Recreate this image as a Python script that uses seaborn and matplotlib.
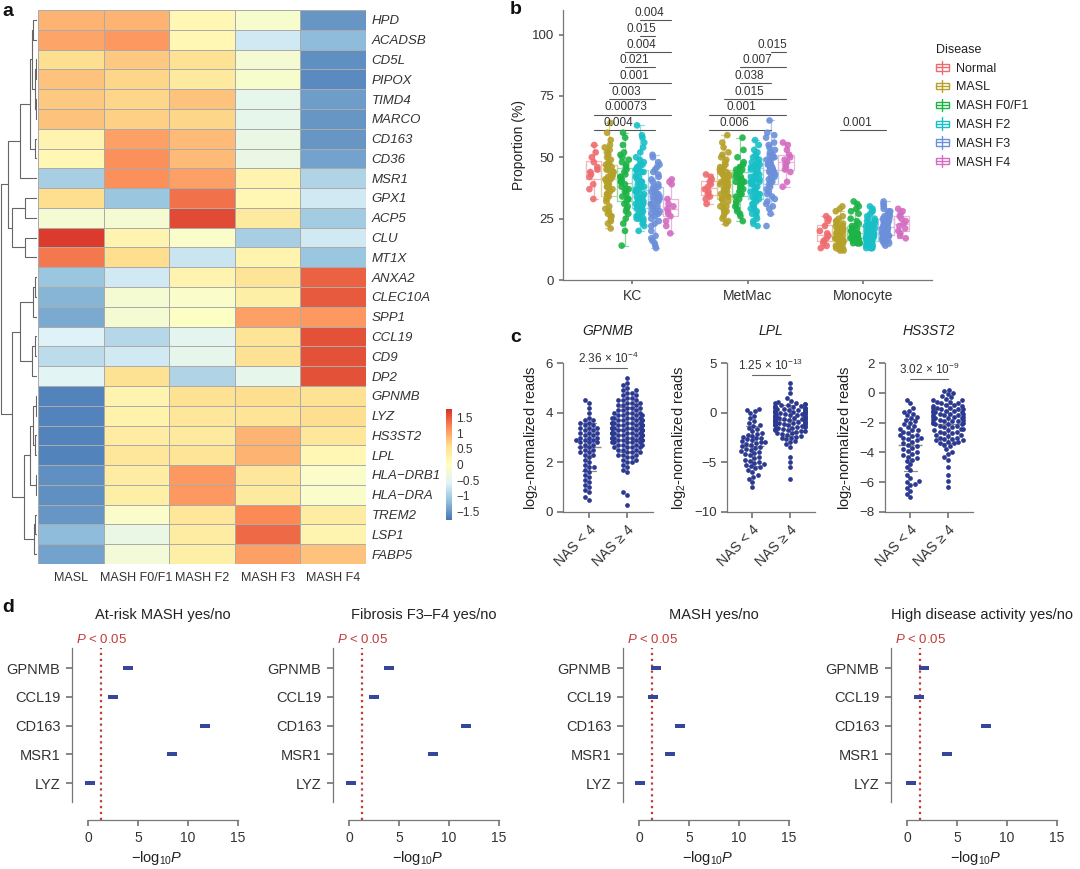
import matplotlib
matplotlib.use("Agg")
import matplotlib.pyplot as plt
import matplotlib.transforms as mtransforms
import numpy as np
import pandas as pd
import seaborn as sns
from matplotlib.colors import LinearSegmentedColormap, to_rgb
from matplotlib.legend_handler import HandlerBase
from matplotlib.lines import Line2D
from matplotlib.patches import Patch, Rectangle

# ---------------- panel a: heatmap ----------------
heat_genes = ["HPD", "ACADSB", "CD5L", "PIPOX", "TIMD4", "MARCO", "CD163", "CD36", "MSR1",
              "GPX1", "ACP5", "CLU", "MT1X", "ANXA2", "CLEC10A", "SPP1", "CCL19", "CD9", "DP2",
              "GPNMB", "LYZ", "HS3ST2", "LPL", "HLA\u2212DRB1", "HLA\u2212DRA", "TREM2", "LSP1", "FABP5"]
heat_stages = ["MASL", "MASH F0/F1", "MASH F2", "MASH F3", "MASH F4"]
heat_values = [
    [0.9, 0.9, 0.15, -0.15, -1.5],
    [1.0, 1.1, 0.15, -0.7, -1.2],
    [0.6, 0.75, 0.55, -0.2, -1.55],
    [0.8, 0.65, 0.4, -0.15, -1.6],
    [0.75, 0.65, 0.8, -0.45, -1.45],
    [0.8, 0.7, 0.65, -0.45, -1.5],
    [0.2, 1.05, 0.85, -0.4, -1.5],
    [0.15, 1.15, 0.85, -0.4, -1.4],
    [-1.0, 1.15, 1.05, 0.2, -0.95],
    [0.6, -1.1, 1.35, 0.15, -0.7],
    [-0.2, -0.2, 1.6, 0.4, -1.05],
    [1.7, 0.2, -0.1, -1.0, -0.7],
    [1.3, 0.6, -0.75, 0.2, -1.1],
    [-1.1, -0.7, 0.2, 0.5, 1.45],
    [-1.25, -0.2, -0.1, 0.3, 1.5],
    [-1.35, -0.2, -0.05, 1.05, 1.1],
    [-0.6, -0.9, -0.5, 0.5, 1.55],
    [-0.85, -0.7, -0.45, 0.55, 1.55],
    [-0.55, 0.55, -0.95, -0.45, 1.55],
    [-1.65, 0.2, 0.55, 0.6, 0.55],
    [-1.65, 0.25, 0.45, 0.5, 0.6],
    [-1.65, 0.35, 0.4, 0.9, 0.45],
    [-1.65, 0.45, 0.5, 0.9, 0.15],
    [-1.55, 0.35, 1.1, 0.45, -0.1],
    [-1.55, 0.3, 1.1, 0.4, -0.1],
    [-1.5, -0.1, 0.45, 1.2, 0.35],
    [-1.2, -0.4, 0.35, 1.4, 0.2],
    [-1.4, -0.25, 0.3, 1.05, 0.8],
]
# row dendrogram: (left child, right child, height); ints refer to earlier links
tree_links = [
    ("HPD", "ACADSB", 13), ("CD5L", "PIPOX", 3), ("TIMD4", "MARCO", 4), (1, 2, 7), (0, 3, 16),
    ("CD163", "CD36", 5), (4, 5, 22), (6, "MSR1", 50), ("GPX1", "ACP5", 35), ("CLU", "MT1X", 35),
    (8, 9, 75), (7, 10, 84), ("ANXA2", "CLEC10A", 5), (12, "SPP1", 12), ("CCL19", "CD9", 7),
    (14, "DP2", 14), (13, 15, 50), ("GPNMB", "LYZ", 3), ("HS3ST2", "LPL", 5), (17, 18, 12),
    ("HLA\u2212DRB1", "HLA\u2212DRA", 2), (19, 20, 22), ("TREM2", "LSP1", 6), (22, "FABP5", 10),
    (21, 23, 38), (16, 24, 74), (11, 25, 107),
]

# ---------------- panel b: proportions ----------------
cell_types = ["KC", "MetMac", "Monocyte"]
disease_levels = ["Normal", "MASL", "MASH F0/F1", "MASH F2", "MASH F3", "MASH F4"]
kc_props = {
    "Normal": [55, 52, 50, 48, 46, 45, 44, 43, 42, 39, 37, 33],
    "MASL": [64, 60, 57, 55, 54, 53, 52, 51, 50, 49, 48, 47, 47, 46, 46, 45, 45, 44, 44, 43,
             43, 42, 42, 41, 41, 41, 40, 40, 39, 39, 38, 38, 37, 37, 36, 35, 35, 34, 33, 32,
             30, 29, 28, 27, 26, 26, 25, 24, 23, 21],
    "MASH F0/F1": [60, 58, 55, 52, 51, 50, 49, 48, 47, 46, 45, 44, 43, 42, 42, 41, 41, 40, 40,
                   39, 38, 37, 37, 36, 35, 34, 33, 33, 32, 31, 30, 29, 28, 27, 25, 23, 20, 14],
    "MASH F2": [63, 59, 58, 56, 54, 52, 50, 49, 48, 47, 47, 46, 46, 45, 45, 44, 44, 43, 42, 42,
                41, 40, 40, 39, 39, 38, 38, 37, 37, 36, 36, 35, 35, 34, 34, 33, 33, 32, 32, 31,
                31, 30, 30, 29, 29, 28, 28, 27, 27, 26, 26, 25, 25, 25, 24, 23, 22, 20],
    "MASH F3": [51, 50, 48, 47, 46, 45, 44, 43, 42, 41, 40, 39, 38, 38, 37, 37, 36, 36, 35, 35,
                34, 34, 34, 33, 33, 33, 32, 32, 31, 31, 30, 30, 29, 29, 28, 28, 27, 27, 26, 25,
                24, 23, 22, 20, 18, 17, 16, 15, 14, 13],
    "MASH F4": [41, 40, 39, 33, 31, 30, 29, 28, 27, 26, 24, 22, 19],
}
metmac_props = {
    "Normal": [43, 42, 41, 40, 39, 38, 37, 36, 35, 34, 33, 31],
    "MASL": [59, 56, 54, 52, 51, 50, 49, 48, 47, 46, 46, 45, 45, 44, 44, 43, 43, 42, 42, 41,
             41, 40, 40, 40, 39, 39, 38, 38, 37, 37, 36, 36, 35, 35, 34, 34, 33, 33, 32, 31,
             30, 30, 29, 28, 28, 27, 26, 25, 24, 23],
    "MASH F0/F1": [58, 53, 50, 48, 47, 46, 46, 45, 45, 44, 44, 43, 42, 42, 41, 41, 40, 40, 40,
                   39, 39, 38, 38, 37, 37, 36, 35, 35, 34, 33, 32, 31, 30, 29, 28, 27, 26, 24],
    "MASH F2": [57, 55, 53, 52, 51, 50, 50, 49, 48, 48, 47, 47, 46, 46, 46, 45, 45, 44, 44, 43,
                43, 42, 42, 42, 41, 41, 41, 40, 40, 40, 39, 39, 38, 38, 37, 37, 36, 36, 35, 35,
                34, 34, 33, 33, 32, 31, 31, 30, 29, 29, 28, 27, 27, 26, 25, 24, 23, 22],
    "MASH F3": [65, 60, 59, 58, 56, 55, 54, 53, 52, 51, 51, 50, 50, 49, 49, 48, 48, 47, 47, 47,
                46, 46, 46, 45, 45, 45, 44, 44, 44, 43, 43, 42, 42, 41, 41, 40, 40, 39, 38, 37,
                36, 35, 34, 33, 32, 31, 30, 29, 27, 22],
    "MASH F4": [56, 55, 53, 51, 50, 49, 48, 47, 46, 45, 44, 40, 38],
}
mono_props = {
    "Normal": [26, 25, 24, 22, 20, 19, 18, 17, 16, 15, 14, 13],
    "MASL": [30, 29, 28, 26, 25, 24, 24, 23, 23, 22, 22, 22, 21, 21, 21, 21, 20, 20, 20, 20,
             20, 19, 19, 19, 19, 19, 18, 18, 18, 18, 18, 17, 17, 17, 17, 16, 16, 16, 16, 15,
             15, 15, 14, 14, 14, 13, 13, 13, 12, 12],
    "MASH F0/F1": [32, 31, 30, 29, 28, 27, 25, 24, 23, 22, 22, 21, 21, 21, 20, 20, 20, 19, 19,
                   19, 19, 18, 18, 18, 18, 17, 17, 17, 17, 16, 16, 16, 16, 15, 15, 15, 15, 15],
    "MASH F2": [30, 29, 28, 28, 27, 26, 25, 25, 24, 24, 23, 23, 23, 22, 22, 22, 22, 21, 21, 21,
                21, 20, 20, 20, 20, 20, 19, 19, 19, 19, 19, 18, 18, 18, 18, 18, 17, 17, 17, 17,
                17, 16, 16, 16, 16, 16, 15, 15, 15, 15, 14, 14, 14, 14, 13, 13, 13, 13],
    "MASH F3": [32, 31, 30, 29, 28, 28, 27, 27, 26, 26, 25, 25, 25, 24, 24, 24, 23, 23, 23, 23,
                22, 22, 22, 22, 22, 21, 21, 21, 21, 20, 20, 20, 20, 19, 19, 19, 19, 18, 18, 18,
                18, 17, 17, 17, 16, 16, 16, 15, 15, 14],
    "MASH F4": [29, 28, 27, 26, 25, 24, 23, 22, 21, 20, 19, 18, 17],
}
b_comparisons = [
    ("KC", "Normal", "MASH F3", "0.004"), ("KC", "Normal", "MASH F4", "0.00073"),
    ("KC", "MASL", "MASH F3", "0.003"), ("KC", "MASL", "MASH F4", "0.001"),
    ("KC", "MASH F0/F1", "MASH F3", "0.021"), ("KC", "MASH F0/F1", "MASH F4", "0.004"),
    ("KC", "MASH F2", "MASH F3", "0.015"), ("KC", "MASH F2", "MASH F4", "0.004"),
    ("MetMac", "Normal", "MASH F3", "0.006"), ("MetMac", "Normal", "MASH F4", "0.001"),
    ("MetMac", "MASL", "MASH F4", "0.015"), ("MetMac", "MASH F0/F1", "MASH F3", "0.038"),
    ("MetMac", "MASH F0/F1", "MASH F4", "0.007"), ("MetMac", "MASH F3", "MASH F4", "0.015"),
    ("Monocyte", "MASL", "MASH F3", "0.001"),
]

# ---------------- panel c: NAS groups ----------------
nas_groups = ["NAS < 4", "NAS \u2265 4"]
gpnmb_low = [4.5, 4.4, 4.2, 4.0, 3.8, 3.7, 3.7, 3.6, 3.6, 3.5, 3.5, 3.4, 3.4, 3.4, 3.3, 3.3, 3.2,
             3.2, 3.2, 3.1, 3.1, 3.0, 3.0, 3.0, 2.9, 2.9, 2.9, 2.8, 2.8, 2.8, 2.7, 2.7, 2.6, 2.6,
             2.5, 2.5, 2.4, 2.4, 2.3, 2.3, 2.2, 2.1, 2.0, 1.9, 1.8, 1.8, 1.7, 1.6, 1.5, 1.4, 1.3,
             1.2, 1.1, 1.0, 0.9, 0.8, 0.6, 0.5]
gpnmb_high = [5.4, 5.2, 5.1, 5.0, 4.9, 4.9, 4.8, 4.8, 4.7, 4.7, 4.6, 4.6, 4.5, 4.5, 4.5, 4.4, 4.4,
              4.4, 4.3, 4.3, 4.3, 4.2, 4.2, 4.2, 4.1, 4.1, 4.1, 4.0, 4.0, 4.0, 4.0, 3.9, 3.9, 3.9,
              3.9, 3.8, 3.8, 3.8, 3.8, 3.8, 3.7, 3.7, 3.7, 3.7, 3.7, 3.6, 3.6, 3.6, 3.6, 3.6, 3.6,
              3.5, 3.5, 3.5, 3.5, 3.5, 3.5, 3.4, 3.4, 3.4, 3.4, 3.4, 3.4, 3.4, 3.3, 3.3, 3.3, 3.3,
              3.3, 3.3, 3.3, 3.2, 3.2, 3.2, 3.2, 3.2, 3.2, 3.2, 3.1, 3.1, 3.1, 3.1, 3.1, 3.1, 3.0,
              3.0, 3.0, 3.0, 3.0, 3.0, 2.9, 2.9, 2.9, 2.9, 2.9, 2.8, 2.8, 2.8, 2.8, 2.8, 2.7, 2.7,
              2.7, 2.7, 2.6, 2.6, 2.6, 2.6, 2.5, 2.5, 2.5, 2.4, 2.4, 2.4, 2.3, 2.3, 2.3, 2.2, 2.2,
              2.1, 2.1, 2.0, 2.0, 1.9, 1.8, 1.7, 1.6, 0.8, 0.7, 0.3]
lpl_low = [0.4, 0.3, 0.2, 0.0, -0.3, -0.5, -0.8, -1.0, -1.2, -1.3, -1.5, -1.6, -1.8, -2.0, -2.1,
           -2.2, -2.3, -2.4, -2.5, -2.6, -2.7, -2.8, -2.9, -3.0, -3.0, -3.1, -3.2, -3.3, -3.4,
           -3.5, -3.6, -3.7, -3.8, -3.9, -4.0, -4.1, -4.2, -4.3, -4.5, -4.6, -4.8, -4.9, -5.0,
           -5.1, -5.2, -5.3, -5.4, -5.5, -5.6, -5.8, -6.0, -6.3, -6.5, -6.7, -7.0, -7.5]
lpl_high = [3.0, 2.5, 2.0, 1.5, 1.2, 1.1, 1.0, 1.0, 0.9, 0.9, 0.8, 0.8, 0.7, 0.7, 0.6, 0.6, 0.5,
            0.5, 0.5, 0.4, 0.4, 0.3, 0.3, 0.3, 0.2, 0.2, 0.2, 0.1, 0.1, 0.1, 0.0, 0.0, 0.0, -0.1,
            -0.1, -0.1, -0.2, -0.2, -0.2, -0.3, -0.3, -0.3, -0.4, -0.4, -0.4, -0.5, -0.5, -0.5,
            -0.6, -0.6, -0.6, -0.7, -0.7, -0.7, -0.8, -0.8, -0.8, -0.9, -0.9, -0.9, -1.0, -1.0,
            -1.0, -1.1, -1.1, -1.1, -1.2, -1.2, -1.2, -1.3, -1.3, -1.4, -1.4, -1.5, -1.5, -1.6,
            -1.6, -1.7, -1.7, -1.8, -1.8, -1.9, -2.0, -2.0, -2.1, -2.2, -2.3, -2.4, -2.5, -2.6,
            -2.7, -2.9, -3.0, -3.2, -3.5, -4.5, -5.0, -5.5, -6.7]
hs3st2_low = [-0.5, -0.7, -1.0, -1.2, -1.3, -1.4, -1.5, -1.6, -1.7, -1.8, -1.9, -2.0, -2.1, -2.2,
              -2.3, -2.4, -2.5, -2.5, -2.6, -2.7, -2.8, -2.8, -2.9, -3.0, -3.0, -3.1, -3.2, -3.3,
              -3.4, -3.5, -3.6, -3.7, -3.8, -3.9, -4.0, -4.1, -4.2, -4.3, -4.4, -4.5, -4.6, -4.8,
              -5.0, -5.2, -5.5, -5.7, -5.9, -6.0, -6.1, -6.2, -6.4, -6.6, -6.8, -7.0]
hs3st2_high = [0.2, 0.1, 0.0, -0.1, -0.2, -0.3, -0.4, -0.5, -0.5, -0.6, -0.6, -0.7, -0.7, -0.8,
               -0.8, -0.9, -0.9, -1.0, -1.0, -1.0, -1.1, -1.1, -1.1, -1.2, -1.2, -1.2, -1.3, -1.3,
               -1.3, -1.4, -1.4, -1.4, -1.5, -1.5, -1.5, -1.6, -1.6, -1.6, -1.7, -1.7, -1.7, -1.8,
               -1.8, -1.8, -1.9, -1.9, -1.9, -2.0, -2.0, -2.0, -2.1, -2.1, -2.1, -2.2, -2.2, -2.3,
               -2.3, -2.4, -2.4, -2.5, -2.5, -2.6, -2.6, -2.7, -2.7, -2.8, -2.8, -2.9, -3.0, -3.0,
               -3.1, -3.1, -3.2, -3.2, -3.3, -3.3, -3.4, -3.4, -3.5, -3.6, -3.8, -4.0, -4.1, -4.3,
               -4.5, -5.0, -5.5, -5.9, -6.3]

# ---------------- panel d: association -log10 P ----------------
d_genes = ["GPNMB", "CCL19", "CD163", "MSR1", "LYZ"]
d_titles = ["At-risk MASH yes/no", "Fibrosis F3\u2013F4 yes/no", "MASH yes/no",
            "High disease activity yes/no"]
d_at_risk = [4.0, 2.5, 11.7, 8.4, 0.2]
d_fibrosis = [4.0, 2.5, 11.7, 8.4, 0.2]
d_mash = [1.7, 1.4, 4.1, 3.1, 0.1]
d_activity = [1.7, 1.2, 7.9, 4.0, 0.4]

# ---------------- style ----------------
sns.set_theme(style="ticks")
plt.rcParams["font.family"] = ["Liberation Sans", "DejaVu Sans"]
plt.rcParams["mathtext.fontset"] = "custom"
plt.rcParams["mathtext.rm"] = "Liberation Sans"
plt.rcParams["mathtext.it"] = "Liberation Sans:italic"
plt.rcParams["text.color"] = "#222222"
plt.rcParams["axes.labelcolor"] = "#222222"
plt.rcParams["axes.edgecolor"] = "#777777"
plt.rcParams["xtick.color"] = "#777777"
plt.rcParams["ytick.color"] = "#777777"
plt.rcParams["xtick.labelcolor"] = "#333333"
plt.rcParams["ytick.labelcolor"] = "#333333"
plt.rcParams["axes.linewidth"] = 0.9

W, H = 1080, 869
fig = plt.figure(figsize=(W / 100, H / 100), dpi=100)


def px_axes(left, top, right, bottom):
    return fig.add_axes([left / W, 1 - bottom / H, (right - left) / W, (bottom - top) / H])


class BoxGlyph(HandlerBase):
    # small boxplot symbol for the legend
    def create_artists(self, legend, orig_handle, xdescent, ydescent, width, height, fontsize, trans):
        c = orig_handle.get_edgecolor()
        cx = width / 2 - xdescent
        box = Rectangle((-xdescent, -ydescent + height * 0.2), width, height * 0.6,
                        facecolor="none", edgecolor=c, linewidth=1.0, transform=trans)
        med = Line2D([-xdescent, width - xdescent], [height / 2 - ydescent] * 2, color=c, lw=1.0,
                     transform=trans)
        wh = Line2D([cx, cx], [-ydescent - height * 0.1, height * 1.1 - ydescent], color=c,
                    lw=1.0, transform=trans, zorder=0)
        return [wh, box, med]


# ---------------- a ----------------
heat_df = pd.DataFrame(heat_values, index=heat_genes, columns=heat_stages)
ax_h = px_axes(38, 10, 366, 564)
ax_cb = px_axes(446, 409, 452, 520)
pheat_cmap = LinearSegmentedColormap.from_list(
    "pheat", ["#4575B4", "#91BFDB", "#E0F3F8", "#FFFFBF", "#FEE090", "#FC8D59", "#D73027"])
sns.heatmap(heat_df, cmap=pheat_cmap, vmin=-1.77, vmax=1.77, linewidths=0.6, linecolor="#ABABAB",
            cbar_ax=ax_cb, ax=ax_h)
ax_h.yaxis.tick_right()
ax_h.set_yticks(np.arange(len(heat_genes)) + 0.5)
ax_h.set_yticklabels(heat_genes, rotation=0, fontstyle="italic", fontsize=9.5)
ax_h.set_xticklabels(heat_stages, rotation=0, fontsize=9)
ax_h.tick_params(length=0, pad=4)
ax_h.tick_params(axis="x", pad=6)
ax_h.set(xlabel=None, ylabel=None)
cb = ax_h.collections[0].colorbar
cb.outline.set_visible(False)
cb.set_ticks([-1.5, -1, -0.5, 0, 0.5, 1, 1.5])
cb.set_ticklabels(["\u22121.5", "\u22121", "\u22120.5", "0", "0.5", "1", "1.5"])
ax_cb.tick_params(length=0, labelsize=8.5, pad=3)

ax_d = px_axes(0, 10, 37, 564)
leaf_y = {g: i + 0.5 for i, g in enumerate(heat_genes)}
nodes = []
for a, b, h in tree_links:
    ya, ha = (leaf_y[a], 0.0) if isinstance(a, str) else nodes[a]
    yb, hb = (leaf_y[b], 0.0) if isinstance(b, str) else nodes[b]
    ax_d.plot([ha, h, h, hb], [ya, ya, yb, yb], color="#666666", lw=0.8)
    nodes.append(((ya + yb) / 2, h))
ax_d.set_xlim(109, 0)
ax_d.set_ylim(len(heat_genes), 0)
ax_d.axis("off")

# ---------------- b ----------------
palette = ["#EE6B6E", "#B5A02A", "#1DB347", "#19BFC6", "#6B8FD9", "#D46CC0"]
light_palette = [tuple(1 - 0.5 * (1 - c) for c in to_rgb(p)) for p in palette]
rows = []
for ct, groups in zip(cell_types, [kc_props, metmac_props, mono_props]):
    for dis in disease_levels:
        for v in groups[dis]:
            rows.append((ct, dis, v))
df_b = pd.DataFrame(rows, columns=["cell", "Disease", "prop"])

ax_b = px_axes(563, 10, 932, 280)
np.random.seed(3)
sns.boxplot(df_b, x="cell", y="prop", hue="Disease", hue_order=disease_levels,
            palette=light_palette, fill=False, showfliers=False, linewidth=0.9,
            legend=False, ax=ax_b)
sns.stripplot(df_b, x="cell", y="prop", hue="Disease", hue_order=disease_levels,
              palette=palette, dodge=True, jitter=0.24, size=4.8, alpha=0.9, linewidth=0,
              legend=False, ax=ax_b)


def hue_x(cell, dis):
    return cell_types.index(cell) - 0.4 + 0.8 * (disease_levels.index(dis) + 0.5) / len(disease_levels)


level = {}
for cell, g1, g2, lab in b_comparisons:
    k = level.get(cell, 0)
    level[cell] = k + 1
    y = 61 + 6.4 * k
    x1, x2 = hue_x(cell, g1), hue_x(cell, g2)
    ax_b.plot([x1, x2], [y, y], color="#555555", lw=0.8, clip_on=False)
    ax_b.text((x1 + x2) / 2 - 0.05, y + 0.5, lab, ha="center", va="bottom", fontsize=8.5,
              color="#333333", clip_on=False)

ax_b.set_ylim(0, 110)
ax_b.set_xlim(-0.6, 2.6)
ax_b.set_yticks([0, 25, 50, 75, 100])
ax_b.set_xlabel(None)
ax_b.set_ylabel("Proportion (%)", fontsize=10)
ax_b.tick_params(axis="both", length=3, labelsize=9.5)
ax_b.tick_params(axis="x", labelsize=10)
sns.despine(ax=ax_b)
handles = [Patch(facecolor="none", edgecolor=c) for c in palette]
ax_b.legend(handles, disease_levels, title="Disease", loc="upper left",
            bbox_to_anchor=(936 / W, 1 - 44 / H), bbox_transform=fig.transFigure,
            frameon=False, fontsize=9, title_fontsize=9, alignment="left",
            handlelength=1.0, handleheight=0.9, labelspacing=0.5, handletextpad=0.6,
            borderaxespad=0, borderpad=0, handler_map={Patch: BoxGlyph()})

# ---------------- c ----------------
dot_color = "#2B3990"
c_specs = [
    (563, 653, gpnmb_low, gpnmb_high, "GPNMB", (0, 6), [0, 2, 4, 6], "2.36 \u00d7 10$^{-4}$", 5.8),
    (727, 815, lpl_low, lpl_high, "LPL", (-10, 5), [-10, -5, 0, 5], "1.25 \u00d7 10$^{-13}$", 3.8),
    (885, 973, hs3st2_low, hs3st2_high, "HS3ST2", (-8, 2), [-8, -6, -4, -2, 0, 2],
     "3.02 \u00d7 10$^{-9}$", 0.9),
]
for left, right, low, high, gene, ylim, yticks, ptxt, py in c_specs:
    ax = px_axes(left, 363, right, 512)
    df_c = pd.DataFrame({"grp": [nas_groups[0]] * len(low) + [nas_groups[1]] * len(high),
                         "val": low + high})
    sns.swarmplot(df_c, x="grp", y="val", order=nas_groups, color=dot_color, size=3.4,
                  linewidth=0, ax=ax)
    sns.pointplot(df_c, x="grp", y="val", order=nas_groups, estimator="mean", errorbar="sd",
                  capsize=0.35, linestyle="none", marker="_", markersize=17,
                  markeredgewidth=1.0, color="#8c8c8c", err_kws={"linewidth": 0.9}, ax=ax)
    ax.set_ylim(*ylim)
    ax.set_yticks(yticks)
    ax.set_xlim(-0.68, 1.68)
    ax.set_xlabel(None)
    ax.set_ylabel("log$_2$-normalized reads", fontsize=10.5)
    ax.set_xticks([0, 1])
    ax.set_xticklabels(nas_groups, rotation=45, ha="right", rotation_mode="anchor")
    ax.tick_params(axis="both", length=4, labelsize=9.5)
    ax.tick_params(axis="x", labelsize=10)
    ax.set_title(gene, fontstyle="italic", fontsize=10, pad=20)
    ax.plot([0, 1], [py, py], color="#666666", lw=0.8, clip_on=False)
    ax.text(0.5, py + (ylim[1] - ylim[0]) * 0.015, ptxt, ha="center", va="bottom", fontsize=8.5,
            color="#333333", clip_on=False)
    sns.despine(ax=ax)

# ---------------- d ----------------
bar_marker = [(-1, -0.45), (1, -0.45), (1, 0.45), (-1, 0.45)]
for left, title, vals in zip([71.5, 332.5, 622.5, 890.5], d_titles,
                             [d_at_risk, d_fibrosis, d_mash, d_activity]):
    ax = px_axes(left, 648, left + 171.5, 802)
    sns.scatterplot(x=vals, y=d_genes, marker=bar_marker, s=44, color="#34479A", linewidth=0,
                    zorder=3, ax=ax)
    ax.set_xlim(-1.65, 15.5)
    ax.set_ylim(4.66, -0.70)
    ax.set_xticks([0, 5, 10, 15])
    ax.axvline(-np.log10(0.05), ymin=-0.117, ymax=1.0, color="#C23B3B", ls=":", lw=1.6,
               clip_on=False)
    trans = mtransforms.blended_transform_factory(ax.transData, ax.transAxes)
    ax.text(-np.log10(0.05) + 0.1, 1.058, "$\\mathit{P}$ < 0.05", transform=trans, ha="center",
            va="center", fontsize=9.5, color="#C23B3B")
    ax.text(7.5, 1.214, title, transform=trans, ha="center", va="center", fontsize=10.5)
    sns.despine(ax=ax)
    ax.spines["bottom"].set_position(("outward", 13))
    ax.spines["bottom"].set_bounds(0, 15)
    ax.tick_params(axis="both", length=4.5, labelsize=10)
    ax.tick_params(axis="y", labelsize=10.5)
    ax.set_xlabel("$-\\mathrm{log}_{10}\\mathit{P}$", fontsize=10.5, labelpad=3)
    ax.set_ylabel(None)

# panel letters
for x, y, lab in [(2, 12, "a"), (510, 10, "b"), (510, 338, "c"), (2, 608, "d")]:
    fig.text(x / W, 1 - y / H, lab, fontsize=14, fontweight="bold", va="center", ha="left",
             color="#111111")

fig.savefig("out.png", dpi=100)
